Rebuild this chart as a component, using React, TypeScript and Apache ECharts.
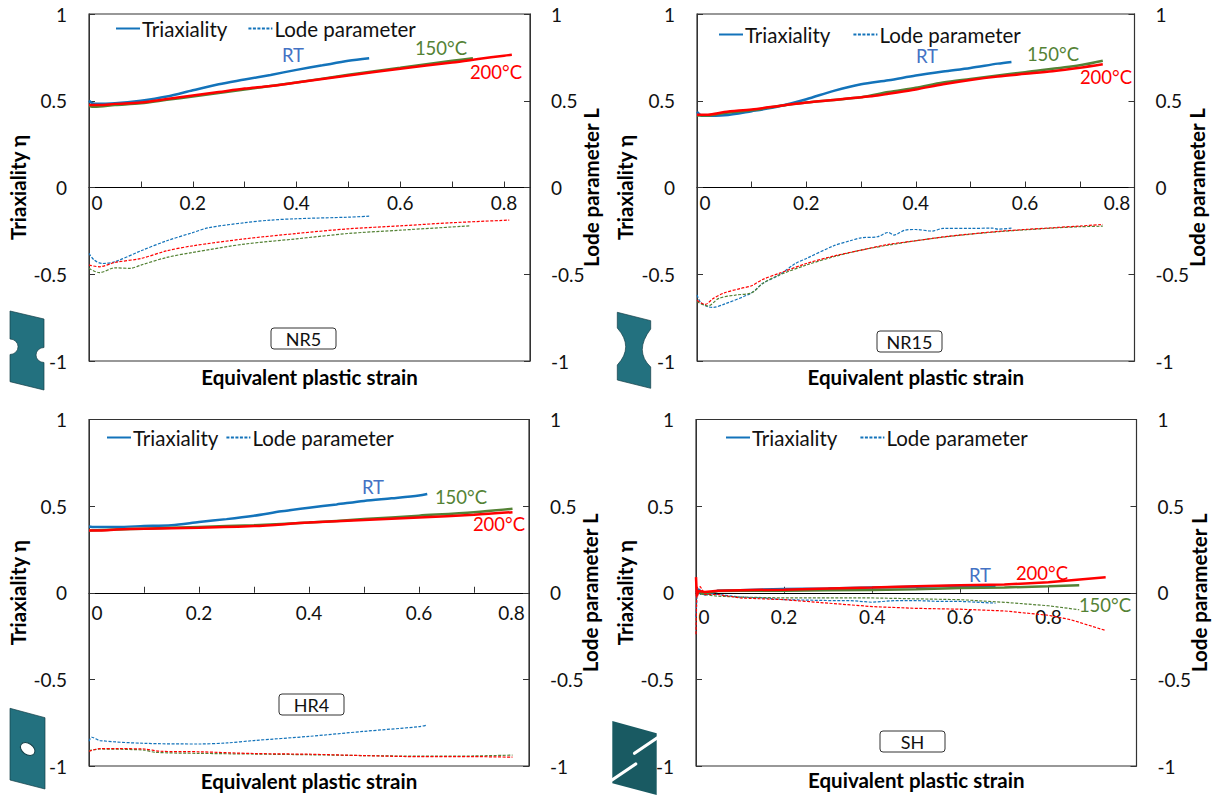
import React, { useEffect, useRef } from "react";
import * as echarts from "echarts";

type P = [number, number][];

const nr5TriRT: P = [[0,.5],[.01,.482],[.05,.485],[.1,.5],[.15,.524],[.2,.56],[.25,.595],[.3,.622],[.35,.649],[.4,.678],[.45,.704],[.5,.73],[.54,.745]];
const nr5Tri150: P = [[0,.47],[.01,.465],[.05,.475],[.1,.485],[.15,.505],[.2,.525],[.3,.565],[.4,.605],[.5,.65],[.6,.69],[.7,.73],[.74,.745]];
const nr5Tri200: P = [[0,.475],[.02,.475],[.05,.482],[.1,.49],[.15,.51],[.2,.53],[.25,.55],[.3,.57],[.35,.585],[.4,.605],[.5,.645],[.6,.685],[.7,.72],[.75,.74],[.8,.76],[.815,.765]];
const nr5LodeRT: P = [[0,-.38],[.01,-.418],[.025,-.438],[.05,-.428],[.1,-.365],[.15,-.307],[.2,-.26],[.23,-.232],[.3,-.203],[.35,-.188],[.4,-.18],[.5,-.171],[.54,-.165]];
const nr5Lode150: P = [[0,-.466],[.02,-.491],[.05,-.463],[.08,-.466],[.1,-.447],[.15,-.403],[.2,-.374],[.3,-.326],[.4,-.296],[.5,-.265],[.6,-.246],[.735,-.221]];
const nr5Lode200: P = [[0,-.447],[.02,-.457],[.05,-.432],[.1,-.409],[.15,-.365],[.2,-.336],[.3,-.296],[.4,-.265],[.5,-.238],[.6,-.221],[.7,-.203],[.81,-.188]];

const nr15TriRT: P = [[0,.436],[.01,.413],[.05,.416],[.1,.44],[.15,.468],[.2,.509],[.25,.557],[.3,.595],[.35,.618],[.4,.645],[.45,.668],[.5,.689],[.55,.714],[.575,.724]];
const nr15Tri150: P = [[0,.415],[.02,.415],[.05,.43],[.1,.445],[.15,.47],[.2,.49],[.25,.505],[.3,.52],[.35,.55],[.4,.575],[.45,.605],[.5,.625],[.55,.645],[.6,.665],[.7,.705],[.742,.731]];
const nr15Tri200: P = [[0,.42],[.02,.42],[.05,.435],[.1,.45],[.15,.47],[.2,.49],[.25,.505],[.3,.52],[.33,.53],[.35,.54],[.4,.565],[.45,.595],[.5,.62],[.55,.64],[.6,.655],[.65,.67],[.7,.69],[.742,.71]];
const nr15LodeRT: P = [[0,-.62],[.007,-.664],[.02,-.687],[.03,-.691],[.05,-.672],[.1,-.607],[.12,-.553],[.15,-.505],[.18,-.438],[.2,-.409],[.25,-.336],[.28,-.307],[.3,-.29],[.33,-.284],[.35,-.259],[.36,-.274],[.38,-.246],[.4,-.242],[.43,-.251],[.45,-.236],[.5,-.236],[.54,-.234],[.55,-.24],[.575,-.234]];
const nr15Lode150: P = [[0,-.658],[.02,-.683],[.04,-.639],[.07,-.62],[.1,-.607],[.12,-.553],[.15,-.505],[.2,-.447],[.25,-.399],[.3,-.361],[.35,-.332],[.4,-.307],[.45,-.286],[.5,-.269],[.55,-.255],[.6,-.244],[.65,-.234],[.7,-.226],[.742,-.223]];
const nr15Lode200: P = [[0,-.65],[.015,-.674],[.03,-.639],[.05,-.607],[.08,-.582],[.1,-.566],[.12,-.53],[.15,-.495],[.2,-.438],[.25,-.395],[.3,-.361],[.35,-.328],[.4,-.307],[.45,-.285],[.5,-.268],[.55,-.253],[.6,-.242],[.65,-.232],[.7,-.222],[.742,-.213]];

const hr4TriRT: P = [[0,.383],[.01,.38],[.05,.38],[.1,.385],[.15,.39],[.2,.408],[.25,.425],[.3,.445],[.35,.47],[.4,.491],[.45,.51],[.5,.53],[.55,.545],[.6,.561],[.615,.57]];
const hr4Tri150: P = [[0,.36],[.05,.365],[.1,.37],[.2,.38],[.3,.39],[.4,.405],[.5,.425],[.6,.445],[.7,.465],[.77,.485]];
const hr4Tri200: P = [[0,.36],[.02,.36],[.05,.365],[.1,.37],[.2,.375],[.3,.385],[.4,.405],[.5,.42],[.6,.435],[.7,.45],[.77,.465]];
const hr4LodeRT: P = [[0,-.857],[.005,-.834],[.02,-.853],[.1,-.869],[.2,-.873],[.25,-.867],[.3,-.853],[.4,-.829],[.5,-.8],[.6,-.773],[.615,-.763]];
const hr4Lode150: P = [[0,-.911],[.02,-.902],[.1,-.908],[.12,-.921],[.2,-.927],[.3,-.931],[.4,-.935],[.5,-.94],[.6,-.943],[.7,-.942],[.77,-.937]];
const hr4Lode200: P = [[0,-.915],[.02,-.9],[.05,-.9],[.1,-.902],[.13,-.915],[.2,-.918],[.3,-.928],[.4,-.932],[.5,-.94],[.57,-.945],[.6,-.946],[.7,-.946],[.77,-.949]];

const shTriRT: P = [[0,0],[.005,.02],[.02,-.01],[.05,.012],[.1,.015],[.2,.022],[.3,.025],[.4,.03],[.5,.035],[.6,.04],[.68,.037]];
const shTri150: P = [[0,.01],[.02,-.005],[.05,.01],[.1,.012],[.2,.012],[.3,.014],[.4,.016],[.5,.02],[.6,.027],[.7,.03],[.8,.038],[.87,.044]];
const shTri200: P = [[0,.09],[.002,-.02],[.005,.01],[.02,.005],[.05,.012],[.1,.015],[.2,.018],[.3,.024],[.4,.03],[.5,.038],[.6,.043],[.7,.048],[.8,.06],[.93,.09]];
const shLodeRT: P = [[0,-.14],[.003,.02],[.01,-.01],[.03,-.005],[.05,-.01],[.1,-.025],[.15,-.03],[.2,-.04],[.3,-.045],[.35,-.045],[.4,-.055],[.45,-.045],[.5,-.045],[.55,-.05],[.6,-.05],[.68,-.06]];
const shLode150: P = [[0,-.005],[.05,-.02],[.1,-.025],[.2,-.03],[.3,-.03],[.4,-.03],[.5,-.035],[.6,-.04],[.7,-.055],[.8,-.075],[.87,-.098]];
const shLode200: P = [[0,-.24],[.002,.03],[.01,.035],[.02,-.01],[.05,-.01],[.1,-.03],[.2,-.04],[.3,-.06],[.4,-.08],[.5,-.09],[.6,-.095],[.7,-.105],[.8,-.13],[.85,-.155],[.93,-.218]];

const panelNames = ["NR5", "NR15", "HR4", "SH"];
const legendLabels = ["Triaxiality", "Lode parameter"];
const tempLabels = ["RT", "150°C", "200°C"];
const xTitle = "Equivalent plastic strain";
const yLeftTitle = "Triaxiality η";
const yRightTitle = "Lode parameter L";

const FONT = "Lato, Carlito, sans-serif";
const BLUE = "#1373BA";
const GREEN = "#548235";
const RED = "#FF0000";
const TEMP_COLORS = ["#4472C4", GREEN, RED];
const TEAL = "#23717F";
const DARK_TEAL = "#195A62";
const EDGE = "#143F47";

const layouts = [
  { left: 89, right: 530, top: 14, bottom: 361, xMax: 0.85, xInt: 0.1, xMargin: -168.5, lastPad: 0, gapL: 61, gapR: 50, smooth: 0.3,
    tri: [nr5TriRT, nr5Tri150, nr5Tri200], lode: [nr5LodeRT, nr5Lode150, nr5Lode200],
    legend: { left: 115, top: 18, gap: 20 }, titleGap: 5,
    temps: [[293, 55], [441, 48], [496, 72]], box: [271, 328, 65, 21] },
  { left: 697, right: 1134.5, top: 14, bottom: 361, xMax: 0.8, xInt: 0.1, xMargin: -168, lastPad: 35, gapL: 62, gapR: 52, smooth: 0.3,
    tri: [nr15TriRT, nr15Tri150, nr15Tri200], lode: [nr15LodeRT, nr15Lode150, nr15Lode200],
    legend: { left: 718, top: 24, gap: 22 }, titleGap: 5,
    temps: [[927, 56], [1053, 54], [1106, 77]], box: [877, 331, 65, 21] },
  { left: 89, right: 529, top: 419.5, bottom: 766, xMax: 0.8, xInt: 0.1, xMargin: -163.2, lastPad: 35, gapL: 61, gapR: 50, smooth: 0.3,
    tri: [hr4TriRT, hr4Tri150, hr4Tri200], lode: [hr4LodeRT, hr4Lode150, hr4Lode200],
    legend: { left: 106, top: 427, gap: 7 }, titleGap: 4,
    temps: [[373, 487], [461, 497], [499, 524]], box: [279, 694, 65, 21] },
  { left: 696, right: 1136.5, top: 419.5, bottom: 766, xMax: 1, xInt: 0.2, xMargin: -159.5, lastPad: 0, gapL: 61, gapR: 52, smooth: false,
    tri: [shTriRT, shTri150, shTri200], lode: [shLodeRT, shLode150, shLode200],
    legend: { left: 725, top: 427, gap: 22 }, titleGap: 3,
    temps: [[980, 575], [1105, 605], [1042, 573]], box: [880, 731, 65, 21] },
];

const seriesColors = [BLUE, GREEN, RED];

const nr5Icon = "M10 311 L44 319 L44 347.5 A8 7.5 0 0 0 44 362.5 L44 390 L10 381.7 L10 354.5 A8 7.7 0 0 0 10 339 Z";
const nr15Icon = "M617.3 312.3 L650.7 320.7 L650.7 329 Q633.9 351 650.7 367 L650.7 388.3 L617.3 380 L617.3 365 Q634.1 347 617.3 328 Z";
const hr4Icon = "M10 708.3 L45 717.7 L45 789 L10 780 Z";
const shIcon = "M612.3 721 L656.7 733.3 L656.7 795 L612.3 783.3 Z";

function buildOption() {
  const grid: any[] = [], xAxis: any[] = [], yAxis: any[] = [], series: any[] = [], legend: any[] = [], graphic: any[] = [];
  const TICK = 19, TITLE = 20.5, LEG = 20.5;

  layouts.forEach((p, i) => {
    const width = p.right - p.left, height = p.bottom - p.top;
    grid.push({ left: p.left, top: p.top, width, height, show: true, borderColor: "#333", borderWidth: 1.2, containLabel: false, outerBoundsMode: "none" });
    xAxis.push({
      type: "value", gridIndex: i, min: 0, max: p.xMax, interval: p.xInt,
      name: xTitle, nameLocation: "middle", nameGap: p.titleGap, nameMoveOverlap: false,
      nameTextStyle: { fontFamily: FONT, fontWeight: "bold", fontSize: TITLE, color: "#000" },
      axisLine: { show: true, onZero: true, lineStyle: { color: "#000", width: 1 } },
      axisTick: { show: true, inside: true, length: 6, lineStyle: { color: "#333" } },
      splitLine: { show: false },
      axisLabel: {
        fontFamily: FONT, fontSize: TICK, color: "#111", margin: p.xMargin,
        rich: {
          first: { fontFamily: FONT, fontSize: TICK, color: "#111", padding: [0, 0, 0, 16] },
          last: { fontFamily: FONT, fontSize: TICK, color: "#111", padding: [0, p.lastPad, 0, 0] },
        },
        formatter: (v: number) => {
          const tenths = Math.round(v * 10);
          if (Math.abs(v * 10 - tenths) > 1e-6 || tenths % 2 !== 0 || tenths > 8) return "";
          if (tenths === 0) return "{first|0}";
          if (tenths === 8 && p.lastPad) return "{last|0.8}";
          return v.toFixed(1);
        },
      },
    });
    const yBase = {
      type: "value", gridIndex: i, min: -1, max: 1, interval: 0.5,
      nameLocation: "middle", nameRotate: 90, nameMoveOverlap: false,
      nameTextStyle: { fontFamily: FONT, fontWeight: "bold", fontSize: TITLE, color: "#000" },
      axisLine: { show: true, onZero: false, lineStyle: { color: "#333" } },
      axisTick: { show: true, inside: true, length: 6, lineStyle: { color: "#333" } },
      splitLine: { show: false },
    };
    yAxis.push({
      ...yBase, position: "left", name: yLeftTitle, nameGap: p.gapL,
      axisLabel: { fontFamily: FONT, fontSize: TICK, color: "#111", margin: 22, align: "right", formatter: (v: number) => String(v) },
    });
    yAxis.push({
      ...yBase, position: "right", name: yRightTitle, nameGap: p.gapR,
      axisLabel: { fontFamily: FONT, fontSize: TICK, color: "#111", margin: 21, align: "left", formatter: (v: number) => String(v) },
    });

    const yL = i * 2, yR = i * 2 + 1;
    p.tri.forEach((d, k) => series.push({
      type: "line", name: k === 0 ? legendLabels[0] : `${legendLabels[0]} ${tempLabels[k]} ${panelNames[i]}`,
      xAxisIndex: i, yAxisIndex: yL, data: d, showSymbol: false, symbol: "none", z: 3 + k, smooth: p.smooth,
      lineStyle: { color: seriesColors[k], width: 2.5 }, itemStyle: { color: seriesColors[k] },
    }));
    p.lode.forEach((d, k) => series.push({
      type: "line", name: k === 0 ? legendLabels[1] : `${legendLabels[1]} ${tempLabels[k]} ${panelNames[i]}`,
      xAxisIndex: i, yAxisIndex: yR, data: d, showSymbol: false, symbol: "none", z: 3 + k, smooth: p.smooth,
      lineStyle: { color: seriesColors[k], width: 1.2, type: [3, 1.5] }, itemStyle: { color: seriesColors[k] },
    }));

    legend.push({
      show: true, data: legendLabels, left: p.legend.left, top: p.legend.top, padding: 0,
      itemWidth: 24, itemHeight: 14, itemGap: p.legend.gap, selectedMode: false,
      itemStyle: { opacity: 0 },
      textStyle: { fontFamily: FONT, fontSize: LEG, color: "#111", padding: [0, 0, 0, -3] },
    });

    p.temps.forEach(([x, y], k) => graphic.push({
      type: "text", x, y, z: 20,
      style: { text: tempLabels[k], fill: TEMP_COLORS[k], font: `18.5px ${FONT}`, align: "center", verticalAlign: "middle" },
    }));
    const [bx, by, bw, bh] = p.box;
    graphic.push({
      type: "rect", z: 20, shape: { x: bx, y: by, width: bw, height: bh, r: 3 },
      style: { fill: "#fff", stroke: "#333", lineWidth: 1 },
    });
    graphic.push({
      type: "text", x: bx + bw / 2, y: by + bh / 2, z: 21,
      style: { text: panelNames[i], fill: "#111", font: `18px ${FONT}`, align: "center", verticalAlign: "middle" },
    });
  });

  const edge = { stroke: EDGE, lineWidth: 0.7 };
  graphic.push({ type: "nr5Icon", x: 0, y: 0, z: 30, style: { fill: TEAL, ...edge } });
  graphic.push({ type: "nr15Icon", x: 0, y: 0, z: 30, style: { fill: TEAL, ...edge } });
  graphic.push({ type: "hr4Icon", x: 0, y: 0, z: 30, style: { fill: TEAL, ...edge } });
  graphic.push({ type: "ellipse", x: 27.7, y: 749, rotation: -0.6, z: 31, shape: { cx: 0, cy: 0, rx: 8, ry: 5.5 }, style: { fill: "#fff", stroke: EDGE, lineWidth: 1 } });
  graphic.push({ type: "shIcon", x: 0, y: 0, z: 30, style: { fill: DARK_TEAL } });
  graphic.push({ type: "line", z: 31, shape: { x1: 657, y1: 738, x2: 634.5, y2: 753.3 }, style: { stroke: "#fff", lineWidth: 3.2, lineCap: "round" } });
  graphic.push({ type: "line", z: 31, shape: { x1: 635.7, y1: 764, x2: 612, y2: 780 }, style: { stroke: "#fff", lineWidth: 3.2, lineCap: "round" } });

  return { animation: false, backgroundColor: "#fff", textStyle: { fontFamily: FONT }, grid, xAxis, yAxis, series, legend, graphic };
}

echarts.graphic.registerShape("nr5Icon", echarts.graphic.extendPath(nr5Icon, {}) as any);
echarts.graphic.registerShape("nr15Icon", echarts.graphic.extendPath(nr15Icon, {}) as any);
echarts.graphic.registerShape("hr4Icon", echarts.graphic.extendPath(hr4Icon, {}) as any);
echarts.graphic.registerShape("shIcon", echarts.graphic.extendPath(shIcon, {}) as any);

export default function App() {
  const ref = useRef<HTMLDivElement>(null);
  useEffect(() => {
    document.body.style.margin = "0";
    const chart = echarts.init(ref.current!, undefined, { renderer: "svg" });
    chart.setOption(buildOption() as any);
    return () => chart.dispose();
  }, []);
  return <div ref={ref} style={{ width: 1220, height: 797, background: "#fff" }} />;
}
